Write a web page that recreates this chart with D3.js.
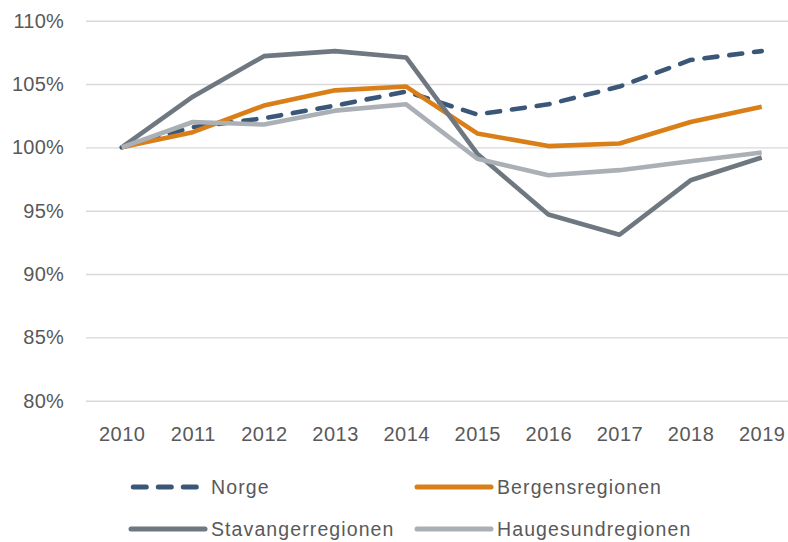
<!DOCTYPE html>
<html>
<head>
<meta charset="utf-8">
<script src="https://cdn.jsdelivr.net/npm/d3@7"></script>
<style>
  body { margin: 0; background: #fff; }
  svg text { font-family: "Liberation Sans", Arial, sans-serif; fill: #595959; }
</style>
</head>
<body>
<div id="chart"></div>
<script>
// index values, 2010 = 100%
const years = ["2010", "2011", "2012", "2013", "2014", "2015", "2016", "2017", "2018", "2019"];
const norge = [100, 101.6, 102.3, 103.3, 104.4, 102.6, 103.4, 104.8, 106.9, 107.6];
const bergen = [100, 101.2, 103.3, 104.5, 104.8, 101.1, 100.1, 100.3, 102.0, 103.2];
const stavanger = [100, 104.0, 107.2, 107.6, 107.1, 99.5, 94.7, 93.1, 97.4, 99.2];
const haugesund = [100, 102.0, 101.8, 102.9, 103.4, 99.1, 97.8, 98.2, 98.9, 99.6];
const yTicks = [80, 85, 90, 95, 100, 105, 110];

const series = [
    { name: "Norge", values: norge, color: "#3B5778", dash: "13 12" },
    { name: "Bergensregionen", values: bergen, color: "#DA7F18", dash: null },
    { name: "Stavangerregionen", values: stavanger, color: "#6F7880", dash: null },
    { name: "Haugesundregionen", values: haugesund, color: "#AAB0B5", dash: null }
];

const W = 788, H = 542;
const margin = { top: 20.7, left: 86 };
const plotRight = 797.3, plotBottom = 400.7;

const svg = d3.select("#chart")
    .append("svg")
    .attr("width", W)
    .attr("height", H);

const x = d3.scalePoint()
    .domain(years)
    .range([121.7, 761.7]);

const y = d3.scaleLinear()
    .domain([80, 110])
    .range([plotBottom, margin.top]);

// gridlines + y labels
const yAxis = d3.axisLeft(y)
    .tickValues(yTicks)
    .tickSize(-(plotRight - margin.left))
    .tickPadding(22)
    .tickFormat(d => d + "%");

svg.append("g")
    .attr("transform", `translate(${margin.left},0)`)
    .call(yAxis)
    .call(g => g.select(".domain").remove())
    .call(g => g.selectAll("line").attr("stroke", "#D9D9D9").attr("stroke-width", 1.4))
    .call(g => g.selectAll("text")
        .attr("fill", "#595959")
        .style("font-size", "20px")
        .style("letter-spacing", "0.2px"));

// x labels
const xAxis = d3.axisBottom(x).tickSize(0).tickPadding(0);
svg.append("g")
    .attr("transform", `translate(0,${plotBottom + 33})`)
    .call(xAxis)
    .call(g => g.select(".domain").remove())
    .call(g => g.selectAll("text")
        .attr("fill", "#595959")
        .attr("dy", "0.35em")
        .style("font-size", "20px")
        .style("letter-spacing", "0.5px"));

const line = d3.line()
    .x((d, i) => x(years[i]))
    .y(d => y(d));

series.forEach(s => {
    svg.append("path")
        .datum(s.values)
        .attr("fill", "none")
        .attr("stroke", s.color)
        .attr("stroke-width", 4.6)
        .attr("stroke-linejoin", "round")
        .attr("stroke-linecap", s.dash ? "round" : "butt")
        .attr("stroke-dasharray", s.dash)
        .attr("d", line);
});

// legend
const legendPos = [
    { x: 131, y: 487 },
    { x: 417, y: 487 },
    { x: 131, y: 529 },
    { x: 417, y: 529 }
];

series.forEach((s, i) => {
    const p = legendPos[i];
    const g = svg.append("g").attr("transform", `translate(${p.x},${p.y})`);
    g.append("line")
        .attr("x1", s.dash ? 2.3 : 0)
        .attr("x2", s.dash ? 66 : 74)
        .attr("y1", 0)
        .attr("y2", 0)
        .attr("stroke", s.color)
        .attr("stroke-width", 5)
        .attr("stroke-linecap", "round")
        .attr("stroke-dasharray", s.dash);
    g.append("text")
        .attr("x", 80)
        .attr("y", 0)
        .attr("dy", "0.35em")
        .style("font-size", "19.5px")
        .style("letter-spacing", "1.1px")
        .text(s.name);
});
</script>
</body>
</html>
